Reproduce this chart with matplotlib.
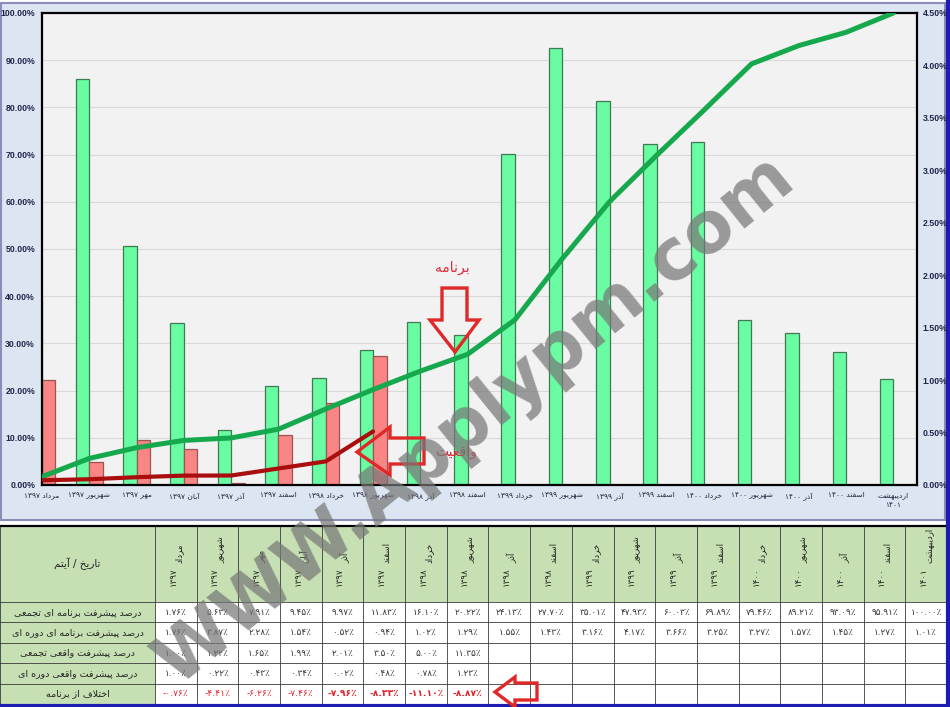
import numpy as np
import matplotlib
matplotlib.use('Agg')
import matplotlib.pyplot as plt
from matplotlib.patches import Rectangle, Polygon

# ---- data ----
months = ['مرداد ۱۳۹۷', 'شهریور ۱۳۹۷', 'مهر ۱۳۹۷', 'آبان ۱۳۹۷', 'آذر ۱۳۹۷',
          'اسفند ۱۳۹۷', 'خرداد ۱۳۹۸', 'شهریور ۱۳۹۸', 'آذر ۱۳۹۸', 'اسفند ۱۳۹۸',
          'خرداد ۱۳۹۹', 'شهریور ۱۳۹۹', 'آذر ۱۳۹۹', 'اسفند ۱۳۹۹', 'خرداد ۱۴۰۰',
          'شهریور ۱۴۰۰', 'آذر ۱۴۰۰', 'اسفند ۱۴۰۰', 'اردیبهشت ۱۴۰۱']
plan_cum = [1.76, 5.63, 7.91, 9.45, 9.97, 11.83, 16.10, 20.22, 24.13, 27.70,
            35.01, 47.93, 60.03, 69.89, 79.46, 89.21, 93.09, 95.91, 100.00]
plan_per = [1.76, 3.87, 2.28, 1.54, 0.52, 0.94, 1.02, 1.29, 1.55, 1.43,
            3.16, 4.17, 3.66, 3.25, 3.27, 1.57, 1.45, 1.27, 1.01]
act_cum = [1.00, 1.22, 1.65, 1.99, 2.01, 3.50, 5.00, 11.35]
act_per = [1.00, 0.22, 0.43, 0.34, 0.02, 0.48, 0.78, 1.23]
diff = [-0.76, -4.41, -6.26, -7.46, -7.96, -8.33, -11.10, -8.87]

row_labels = ['درصد پیشرفت برنامه ای تجمعی', 'درصد پیشرفت برنامه ای دوره ای',
              'درصد پیشرفت واقعی تجمعی', 'درصد پیشرفت واقعی دوره ای',
              'اختلاف از برنامه']
corner_label = 'تاریخ / آیتم'

# ---- minimal persian shaping (matplotlib has no RTL layout) ----
FORMS = {  # isolated, final, initial, medial
    'ا': ('\uFE8D', '\uFE8E', None, None), 'آ': ('\uFE81', '\uFE82', None, None),
    'ب': ('\uFE8F', '\uFE90', '\uFE91', '\uFE92'), 'پ': ('\uFB56', '\uFB57', '\uFB58', '\uFB59'),
    'ت': ('\uFE95', '\uFE96', '\uFE97', '\uFE98'), 'ج': ('\uFE9D', '\uFE9E', '\uFE9F', '\uFEA0'),
    'خ': ('\uFEA5', '\uFEA6', '\uFEA7', '\uFEA8'), 'د': ('\uFEA9', '\uFEAA', None, None),
    'ذ': ('\uFEAB', '\uFEAC', None, None), 'ر': ('\uFEAD', '\uFEAE', None, None),
    'ز': ('\uFEAF', '\uFEB0', None, None), 'س': ('\uFEB1', '\uFEB2', '\uFEB3', '\uFEB4'),
    'ش': ('\uFEB5', '\uFEB6', '\uFEB7', '\uFEB8'), 'ص': ('\uFEB9', '\uFEBA', '\uFEBB', '\uFEBC'),
    'ع': ('\uFEC9', '\uFECA', '\uFECB', '\uFECC'), 'ف': ('\uFED1', '\uFED2', '\uFED3', '\uFED4'),
    'ق': ('\uFED5', '\uFED6', '\uFED7', '\uFED8'), 'ل': ('\uFEDD', '\uFEDE', '\uFEDF', '\uFEE0'),
    'م': ('\uFEE1', '\uFEE2', '\uFEE3', '\uFEE4'), 'ن': ('\uFEE5', '\uFEE6', '\uFEE7', '\uFEE8'),
    'ه': ('\uFEE9', '\uFEEA', '\uFEEB', '\uFEEC'), 'و': ('\uFEED', '\uFEEE', None, None),
    'ی': ('\uFBFC', '\uFBFD', '\uFBFE', '\uFBFF'),
}
LAM_ALEF = {'ا': ('\uFEFB', '\uFEFC'), 'آ': ('\uFEF5', '\uFEF6')}


def shape_word(w):
    out = []
    i = 0
    n = len(w)
    while i < n:
        c = w[i]
        if c not in FORMS:
            out.append(c)
            i += 1
            continue
        prev = w[i - 1] if i > 0 else None
        jp = prev in FORMS and FORMS[prev][2] is not None
        if c == 'ل' and i + 1 < n and w[i + 1] in LAM_ALEF:
            lig = LAM_ALEF[w[i + 1]]
            out.append(lig[1] if jp else lig[0])
            i += 2
            continue
        nxt = w[i + 1] if i + 1 < n else None
        jn = FORMS[c][2] is not None and nxt in FORMS
        iso, fin, ini, med = FORMS[c]
        if jp and jn:
            out.append(med)
        elif jp:
            out.append(fin)
        elif jn:
            out.append(ini)
        else:
            out.append(iso)
        i += 1
    return ''.join(out)


def fa(text):
    lines = []
    for line in text.split('\n'):
        toks = []
        for t in line.split(' '):
            if any(ch in FORMS for ch in t):
                toks.append(shape_word(t)[::-1])
            else:
                toks.append(t)
        lines.append(' '.join(toks[::-1]))
    return '\n'.join(lines)


def fa_pct(v):
    s = f'{v:.2f}'.translate(str.maketrans('0123456789', '۰۱۲۳۴۵۶۷۸۹'))
    return s + '\u066A'


# ---- figure ----
W, H = 950, 707
fig = plt.figure(figsize=(9.5, 7.07), dpi=100)
fig.patch.set_facecolor('white')

bg = fig.add_axes([0, 0, 1, 1], zorder=0)
bg.set_xlim(0, W)
bg.set_ylim(H, 0)
bg.axis('off')
bg.add_patch(Rectangle((1, 3), W - 6, 517, fc='#dce6f2', ec='#8c8cb8', lw=1.5))

# ---- chart ----
x = np.arange(len(months))
bw = 0.285
axl = fig.add_axes([42 / W, 1 - 485 / H, (917 - 42) / W, (485 - 13) / H])
axb = axl.twinx()
axl.set_zorder(axb.get_zorder() + 1)
axl.patch.set_visible(False)
axb.patch.set_visible(True)
axb.patch.set_facecolor('#f2f2f2')

for g in range(10, 100, 10):
    axb.axhline(g / 100 * 4.5, color='#d9d9d9', lw=0.8, zorder=0)
axb.bar(x - bw / 2, plan_per, bw, color='#6afca2', edgecolor='#3f7a55', lw=0.9, zorder=2)
axb.bar(x[:len(act_per)] + bw / 2, act_per, bw, color='#fa8585', edgecolor='#9a5555', lw=0.9, zorder=2)

axl.plot(x, plan_cum, color='#16a84c', lw=3.6, solid_joinstyle='round', solid_capstyle='round')
axl.plot(x[:len(act_cum)], act_cum, color='#aa0d0d', lw=3.0, solid_joinstyle='round', solid_capstyle='round')

axl.set_xlim(0, 18.5)
axl.set_ylim(0, 100)
axb.set_ylim(0, 4.5)
axl.set_yticks(np.arange(0, 101, 10))
axl.set_yticklabels([f'{v:.2f}%' for v in np.arange(0, 101, 10)])
axb.set_yticks(np.arange(0, 4.51, 0.5))
axb.set_yticklabels([f'{v:.2f}%' for v in np.arange(0, 4.51, 0.5)])
axl.set_xticks(x)
axl.set_xticklabels([fa(m.replace('اردیبهشت ', 'اردیبهشت\n')) for m in months],
                    fontsize=5.4, color='#1f1f3a', linespacing=1.6)
for a in (axl, axb):
    a.tick_params(axis='y', length=0, labelsize=6.3, labelcolor='#20244a')
    for lab in a.get_yticklabels():
        lab.set_fontweight('bold')
        lab.set_family('Liberation Sans')
axl.tick_params(axis='x', length=0, pad=5)
axl.tick_params(axis='y', pad=5)
axb.tick_params(axis='y', pad=4)
for s in axl.spines.values():
    s.set_visible(False)
for s in axb.spines.values():
    s.set_color('black')
    s.set_linewidth(1.6)

# ---- table ----
top, hb = 526, 602
rows_y = np.linspace(hb, 704, len(row_labels) + 1)
c0 = 155
cols_x = np.linspace(c0, 947, len(months) + 1)
bg.add_patch(Rectangle((0, top), 947, hb - top, fc='#c6e0b4', ec='none'))
bg.add_patch(Rectangle((0, hb), c0, 704 - hb, fc='#c6e0b4', ec='none'))
bg.add_patch(Rectangle((c0, hb), 947 - c0, 704 - hb, fc='white', ec='none'))
for cx in cols_x:
    bg.plot([cx, cx], [top, 704], color='#3a3a3a', lw=0.6)
bg.plot([0, 0], [top, 704], color='#3a3a3a', lw=0.6)
for ry in rows_y:
    bg.plot([0, 947], [ry, ry], color='#3a3a3a', lw=0.6)
bg.plot([0, 947], [top, top], color='black', lw=1.6)

bg.text(c0 / 2, (top + hb) / 2, fa(corner_label), ha='center', va='center', fontsize=7.5, color='#222222')
for i, m in enumerate(months):
    word, year = m.split(' ')
    cx = (cols_x[i] + cols_x[i + 1]) / 2
    bg.text(cx + 3, 563, fa(word), rotation=90, ha='center', va='bottom', fontsize=6.2, color='#222222')
    bg.text(cx - 3, 567, year, rotation=90, ha='center', va='top', fontsize=6.2, color='#222222')

table_rows = [plan_cum, plan_per, act_cum, act_per, diff]
for r, (lab, vals) in enumerate(zip(row_labels, table_rows)):
    cy = (rows_y[r] + rows_y[r + 1]) / 2
    bg.text(c0 / 2, cy, fa(lab), ha='center', va='center', fontsize=6.8, color='#222222')
    for i, v in enumerate(vals):
        cx = (cols_x[i] + cols_x[i + 1]) / 2
        if r == 4:
            txt = '-' + fa_pct(abs(v))
            bg.text(cx, cy, txt, ha='center', va='center', fontsize=6.6, color='#e0202a',
                    fontweight='bold' if abs(v) > 7.5 else 'normal')
        else:
            bg.text(cx, cy, fa_pct(v), ha='center', va='center', fontsize=6.4, color='#333333')

# outer frame
bg.plot([0, 947], [705.5, 705.5], color='#1c1cb0', lw=3)
bg.plot([947.5, 947.5], [0, 707], color='#1c1cb0', lw=3)

# ---- annotations (pixel coordinates) ----
fg = fig.add_axes([0, 0, 1, 1], zorder=5)
fg.set_xlim(0, W)
fg.set_ylim(H, 0)
fg.axis('off')
arrow_kw = dict(fill=False, ec='#e02828', lw=2.4, joinstyle='miter')
fg.add_patch(Polygon([(442, 288), (467, 288), (467, 320), (479, 320), (455, 352), (430, 320), (442, 320)], **arrow_kw))
fg.add_patch(Polygon([(424, 438), (424, 464), (390, 464), (390, 475), (357, 452), (390, 427), (390, 438)], **arrow_kw))
fg.add_patch(Polygon([(537, 683), (537, 700), (515, 700), (515, 707), (495, 692), (515, 677), (515, 683)], **arrow_kw))
fg.text(452, 268, fa('برنامه'), ha='center', va='center', fontsize=10, color='#e0283a')
fg.text(456, 452, fa('واقعیت'), ha='center', va='center', fontsize=10, color='#e0283a')

fg.text(476, 420, 'WWW.Applypm.com', rotation=39, ha='center', va='center', fontsize=51,
        fontweight='bold', color='#777777', alpha=0.72)

fig.savefig('out.png', dpi=100)
